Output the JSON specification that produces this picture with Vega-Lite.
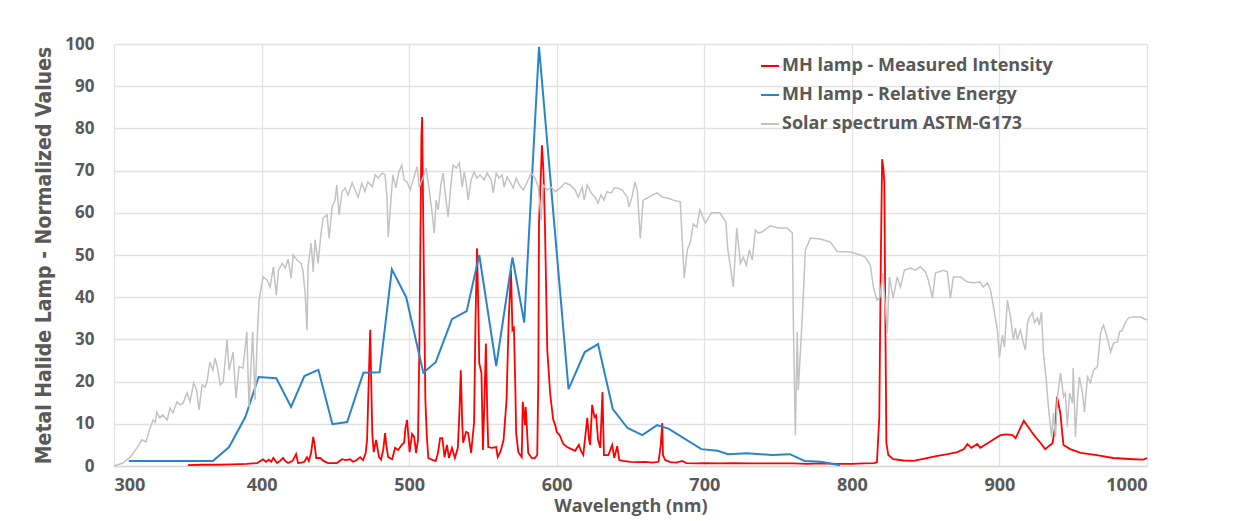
{
  "$schema": "https://vega.github.io/schema/vega-lite/v6.json",
  "width": 1033,
  "height": 422,
  "autosize": {"type": "none"},
  "padding": {"left": 114, "top": 44, "right": 102, "bottom": 55},
  "background": "white",
  "config": {
    "view": {"stroke": null},
    "axis": {
      "gridColor": "#E3E3E3",
      "gridWidth": 1.3,
      "ticks": false,
      "labelColor": "#595959",
      "labelFont": "Open Sans",
      "labelFontWeight": "bold",
      "titleColor": "#595959"
    },
    "legend": {
      "labelFont": "Open Sans",
      "labelFontWeight": "bold",
      "labelFontSize": 18,
      "labelColor": "#595959",
      "labelLimit": 500,
      "symbolType": "stroke",
      "symbolSize": 324,
      "symbolStrokeWidth": 2,
      "labelOffset": 2,
      "rowPadding": 10
    }
  },
  "layer": [
    {
      "data": {"values": [
        {"wl":350,"v":0.2},{"wl":360,"v":0.3},{"wl":370,"v":0.3},{"wl":380,"v":0.4},{"wl":390,"v":0.5},{"wl":397,"v":0.7},{"wl":401,"v":1.6},{"wl":403,"v":1.0},{"wl":405,"v":1.5},{"wl":406.5,"v":1.0},{"wl":408,"v":1.9},{"wl":410.5,"v":0.7},{"wl":412.5,"v":1.2},{"wl":414.6,"v":1.9},{"wl":416,"v":1.2},{"wl":418,"v":0.7},{"wl":421,"v":1.2},{"wl":423.4,"v":2.8},{"wl":424.7,"v":0.7},{"wl":427,"v":0.8},{"wl":429,"v":1.0},{"wl":430.8,"v":2.1},{"wl":432,"v":1.2},{"wl":433.5,"v":3},{"wl":435,"v":6.9},{"wl":436,"v":5},{"wl":437,"v":1.9},{"wl":439.7,"v":1.9},{"wl":442,"v":1.2},{"wl":445,"v":0.7},{"wl":451,"v":0.7},{"wl":454.6,"v":1.6},{"wl":457,"v":1.4},{"wl":460,"v":1.6},{"wl":462,"v":1.0},{"wl":464,"v":1.3},{"wl":466.8,"v":2.1},{"wl":468.8,"v":1.4},{"wl":470.5,"v":3},{"wl":471.5,"v":6.2},{"wl":473,"v":25},{"wl":473.6,"v":32.3},{"wl":474.3,"v":20},{"wl":475,"v":7.8},{"wl":476,"v":3.3},{"wl":477.6,"v":6.2},{"wl":479.6,"v":2.1},{"wl":481,"v":1.5},{"wl":482.5,"v":4},{"wl":483.7,"v":7.8},{"wl":484.5,"v":5},{"wl":485.8,"v":2.1},{"wl":488.5,"v":1.6},{"wl":490.5,"v":4.3},{"wl":492.5,"v":3.8},{"wl":495,"v":5},{"wl":496.6,"v":5.5},{"wl":497.5,"v":9},{"wl":498.6,"v":10.9},{"wl":499.5,"v":7},{"wl":500.3,"v":3.3},{"wl":502,"v":7.6},{"wl":503.4,"v":6.9},{"wl":504.7,"v":3.1},{"wl":506,"v":6.2},{"wl":507,"v":30},{"wl":508.3,"v":78},{"wl":508.8,"v":82.7},{"wl":509.5,"v":60},{"wl":510.5,"v":30},{"wl":511,"v":15.6},{"wl":512,"v":7},{"wl":513,"v":1.9},{"wl":516,"v":1.4},{"wl":518,"v":1.2},{"wl":519.5,"v":3},{"wl":521,"v":6.6},{"wl":522.5,"v":6.6},{"wl":524,"v":2.1},{"wl":525.6,"v":5},{"wl":527,"v":1.9},{"wl":529,"v":4.3},{"wl":531,"v":1.9},{"wl":533,"v":4.3},{"wl":534,"v":12},{"wl":535,"v":22.7},{"wl":536,"v":10},{"wl":536.6,"v":5.5},{"wl":538.6,"v":8.1},{"wl":540,"v":7.8},{"wl":542,"v":3.1},{"wl":544,"v":10.2},{"wl":545,"v":35},{"wl":546,"v":51.6},{"wl":547,"v":35},{"wl":547.5,"v":24.4},{"wl":549,"v":22},{"wl":550,"v":3.8},{"wl":551,"v":15},{"wl":552,"v":29},{"wl":553,"v":12},{"wl":553.6,"v":4.5},{"wl":556,"v":4.3},{"wl":559,"v":4.5},{"wl":560,"v":2.1},{"wl":562,"v":3.5},{"wl":564,"v":6.2},{"wl":566,"v":15.6},{"wl":567.5,"v":35},{"wl":568.5,"v":42.4},{"wl":569,"v":46.4},{"wl":570,"v":32.2},{"wl":571,"v":32.7},{"wl":572,"v":18},{"wl":572.5,"v":7.8},{"wl":574,"v":3.3},{"wl":576.3,"v":2.1},{"wl":577,"v":15.2},{"wl":578.6,"v":9.7},{"wl":579,"v":14},{"wl":580.7,"v":3.1},{"wl":583,"v":1.9},{"wl":585,"v":1.8},{"wl":586.8,"v":2.6},{"wl":587.5,"v":20},{"wl":588,"v":57.6},{"wl":590,"v":76},{"wl":591,"v":70},{"wl":592,"v":57.6},{"wl":593.6,"v":27.5},{"wl":595.6,"v":17},{"wl":597.6,"v":11},{"wl":599,"v":9.7},{"wl":600,"v":8.1},{"wl":602,"v":7.3},{"wl":604.5,"v":5.2},{"wl":607,"v":4.5},{"wl":610,"v":4},{"wl":612.5,"v":3.6},{"wl":615,"v":5},{"wl":616.5,"v":3.5},{"wl":618,"v":2.6},{"wl":620.7,"v":11.4},{"wl":622,"v":6},{"wl":622.7,"v":5},{"wl":624,"v":14.5},{"wl":625.6,"v":11.6},{"wl":626.7,"v":12},{"wl":628,"v":6.2},{"wl":629.5,"v":4.3},{"wl":631,"v":17.5},{"wl":632,"v":2.6},{"wl":635,"v":2.6},{"wl":637.6,"v":5},{"wl":639,"v":1.9},{"wl":641,"v":4.7},{"wl":642.4,"v":1.4},{"wl":645,"v":1.2},{"wl":650,"v":1.0},{"wl":655,"v":0.9},{"wl":660,"v":1.0},{"wl":665,"v":0.8},{"wl":669,"v":1.0},{"wl":670.5,"v":5},{"wl":671.5,"v":10.2},{"wl":672,"v":2.6},{"wl":673.5,"v":1.4},{"wl":677,"v":0.9},{"wl":681,"v":0.8},{"wl":685,"v":1.2},{"wl":688,"v":0.7},{"wl":695,"v":0.6},{"wl":700,"v":0.7},{"wl":710,"v":0.6},{"wl":720,"v":0.7},{"wl":730,"v":0.6},{"wl":740,"v":0.6},{"wl":750,"v":0.6},{"wl":760,"v":0.6},{"wl":770,"v":0.5},{"wl":780,"v":0.6},{"wl":790,"v":0.5},{"wl":800,"v":0.5},{"wl":808,"v":0.6},{"wl":815,"v":0.7},{"wl":817,"v":0.9},{"wl":818.6,"v":11.6},{"wl":819.5,"v":45},{"wl":820.5,"v":72.7},{"wl":821.5,"v":70},{"wl":822,"v":67},{"wl":822.8,"v":30},{"wl":823.4,"v":5.5},{"wl":824.7,"v":2.6},{"wl":828,"v":1.6},{"wl":835,"v":1.3},{"wl":841.7,"v":1.2},{"wl":850,"v":1.8},{"wl":858,"v":2.4},{"wl":865,"v":2.8},{"wl":871.5,"v":3.3},{"wl":876,"v":4},{"wl":878.3,"v":5.2},{"wl":881,"v":4.3},{"wl":885,"v":5.2},{"wl":887,"v":4.3},{"wl":892.5,"v":5.5},{"wl":897,"v":6.5},{"wl":900.7,"v":7.3},{"wl":905,"v":7.5},{"wl":908.8,"v":7.3},{"wl":911,"v":6.6},{"wl":913.5,"v":8.5},{"wl":916.5,"v":10.7},{"wl":919.7,"v":9.2},{"wl":922,"v":8},{"wl":924.4,"v":6.9},{"wl":928,"v":5.4},{"wl":931,"v":4.0},{"wl":933.4,"v":4.7},{"wl":936,"v":5.4},{"wl":938,"v":10},{"wl":939,"v":16.4},{"wl":941.3,"v":12.5},{"wl":942.5,"v":8},{"wl":943.4,"v":5},{"wl":948,"v":4},{"wl":955,"v":3.1},{"wl":966,"v":2.6},{"wl":977,"v":1.9},{"wl":991,"v":1.6},{"wl":997.6,"v":1.5},{"wl":1000,"v":1.9}
      ]},
      "mark": {"type": "line", "strokeWidth": 1.8, "interpolate": "linear"},
      "encoding": {
        "x": {"field": "wl", "type": "quantitative", "scale": {"domain": [300, 1000], "nice": false},
          "axis": {"values": [300,400,500,600,700,800,900,1000], "format": "d", "title": "Wavelength (nm)", "titleFont": "Open Sans", "titleFontWeight": "bold", "titleFontSize": 18, "titlePadding": 3, "labelFontSize": 18, "labelPadding": 10, "domainColor": "#D9D9D9", "domainWidth": 1.5}},
        "y": {"field": "v", "type": "quantitative", "scale": {"domain": [0, 100], "nice": false},
          "axis": {"values": [0,10,20,30,40,50,60,70,80,90,100], "title": "Metal Halide Lamp - Normalized Values", "titleFont": "'DejaVu Sans Condensed', Roboto", "titleFontWeight": "bold", "titleFontSize": 21, "titlePadding": 10, "labelFontSize": 17, "labelPadding": 20, "domain": false}},
        "color": {"datum": "MH lamp - Measured Intensity", "type": "nominal",
          "scale": {"domain": ["MH lamp - Measured Intensity", "MH lamp - Relative Energy", "Solar spectrum ASTM-G173"], "range": ["#FF0000", "#2A84C9", "#C3C3C3"]},
          "legend": {"title": null, "orient": "none", "legendX": 646, "legendY": 12}}
      }
    },
    {
      "data": {"values": [
        {"wl":310,"v":1.2},{"wl":367,"v":1.2},{"wl":378,"v":4.5},{"wl":389,"v":11.6},{"wl":398,"v":21.1},{"wl":410,"v":20.8},{"wl":420,"v":14},{"wl":429,"v":21.3},{"wl":438.5,"v":22.8},{"wl":448,"v":9.9},{"wl":458,"v":10.4},{"wl":469,"v":22.1},{"wl":480,"v":22.2},{"wl":488.3,"v":46.6},{"wl":498,"v":40},{"wl":509.6,"v":22.1},{"wl":518,"v":24.6},{"wl":529,"v":34.8},{"wl":539,"v":36.7},{"wl":547.5,"v":50},{"wl":559,"v":23.7},{"wl":570,"v":49.4},{"wl":578,"v":34},{"wl":588,"v":99.3},{"wl":608,"v":18.2},{"wl":619,"v":27},{"wl":628,"v":28.9},{"wl":638,"v":13.5},{"wl":648,"v":9},{"wl":658,"v":7.3},{"wl":668,"v":9.7},{"wl":676,"v":8.8},{"wl":698,"v":4},{"wl":709,"v":3.6},{"wl":716,"v":2.8},{"wl":729,"v":3.0},{"wl":746,"v":2.6},{"wl":758,"v":2.8},{"wl":768,"v":1.2},{"wl":779,"v":1},{"wl":792,"v":0.2}
      ]},
      "mark": {"type": "line", "strokeWidth": 2},
      "encoding": {
        "x": {"field": "wl", "type": "quantitative"},
        "y": {"field": "v", "type": "quantitative"},
        "color": {"datum": "MH lamp - Relative Energy", "type": "nominal"}
      }
    },
    {
      "data": {"values": [
        {"wl":300,"v":0},{"wl":306,"v":0.7},{"wl":311,"v":2.1},{"wl":315.6,"v":4.3},{"wl":319,"v":6.2},{"wl":321.7,"v":5.7},{"wl":324,"v":8.5},{"wl":326.4,"v":10.9},{"wl":328,"v":10.4},{"wl":329,"v":12.8},{"wl":331,"v":11.4},{"wl":333,"v":12.1},{"wl":336,"v":10.9},{"wl":338,"v":13.7},{"wl":340,"v":12.6},{"wl":342.7,"v":15.2},{"wl":344.7,"v":14.5},{"wl":346.8,"v":14.9},{"wl":349.5,"v":17.3},{"wl":351.5,"v":15.2},{"wl":354,"v":19.7},{"wl":356,"v":18},{"wl":357.6,"v":13.3},{"wl":359.7,"v":19.2},{"wl":361.7,"v":18.7},{"wl":363,"v":19.9},{"wl":365,"v":24.6},{"wl":367,"v":22.7},{"wl":368.5,"v":25.6},{"wl":370,"v":23.5},{"wl":372,"v":19.2},{"wl":374,"v":19.9},{"wl":376.6,"v":29.9},{"wl":378,"v":22.7},{"wl":380.7,"v":27},{"wl":382.7,"v":16.1},{"wl":384.7,"v":23.5},{"wl":387.4,"v":23.2},{"wl":390,"v":31.8},{"wl":391.5,"v":14},{"wl":394,"v":31.8},{"wl":395.6,"v":15.6},{"wl":397,"v":29.9},{"wl":398.3,"v":39.3},{"wl":401,"v":44.8},{"wl":403.7,"v":44.1},{"wl":405.8,"v":42.4},{"wl":408,"v":47.2},{"wl":410,"v":40.5},{"wl":411.5,"v":46.4},{"wl":414,"v":48},{"wl":416,"v":46.9},{"wl":418,"v":49},{"wl":420,"v":44.5},{"wl":421.4,"v":50},{"wl":424,"v":48.8},{"wl":426.8,"v":48},{"wl":428,"v":46.4},{"wl":429.5,"v":41},{"wl":430.8,"v":32.2},{"wl":431.5,"v":47.2},{"wl":433.6,"v":52.8},{"wl":435,"v":46},{"wl":436.3,"v":53.6},{"wl":438.3,"v":48},{"wl":440.3,"v":55.2},{"wl":441.7,"v":58.8},{"wl":444.4,"v":59.5},{"wl":445.8,"v":54},{"wl":447.8,"v":61.4},{"wl":449.8,"v":63},{"wl":451,"v":66.6},{"wl":452.5,"v":59.5},{"wl":454.6,"v":65},{"wl":456.6,"v":65.9},{"wl":458.6,"v":64.2},{"wl":461.4,"v":67.1},{"wl":463.4,"v":65.4},{"wl":465.4,"v":63.7},{"wl":468,"v":67},{"wl":470,"v":65},{"wl":472,"v":67.3},{"wl":475,"v":66.2},{"wl":477,"v":69},{"wl":479,"v":68.2},{"wl":481.7,"v":69.4},{"wl":483.7,"v":69},{"wl":485,"v":63.7},{"wl":485.8,"v":54.3},{"wl":487.8,"v":63.7},{"wl":489,"v":69},{"wl":491,"v":65.9},{"wl":493,"v":69.7},{"wl":495,"v":71.3},{"wl":496.6,"v":67.8},{"wl":498.6,"v":67.3},{"wl":500.7,"v":65.4},{"wl":502.7,"v":67.8},{"wl":505.4,"v":70.9},{"wl":506.8,"v":66.1},{"wl":509.5,"v":68.5},{"wl":511.5,"v":70.6},{"wl":513.6,"v":65.4},{"wl":515.6,"v":59.9},{"wl":517,"v":55.2},{"wl":518.3,"v":63},{"wl":519.7,"v":60.7},{"wl":521.7,"v":67.1},{"wl":523,"v":69.4},{"wl":525,"v":63},{"wl":526.4,"v":59},{"wl":528.5,"v":67.3},{"wl":529.8,"v":71.3},{"wl":532,"v":70.6},{"wl":534,"v":71.8},{"wl":536,"v":66.1},{"wl":537.3,"v":69.7},{"wl":538.6,"v":67.3},{"wl":540,"v":63},{"wl":542,"v":67.8},{"wl":544,"v":69.7},{"wl":546,"v":68.2},{"wl":548,"v":69},{"wl":550.8,"v":67.8},{"wl":552.9,"v":69.4},{"wl":555.6,"v":67.8},{"wl":557,"v":64.7},{"wl":559,"v":69.4},{"wl":561,"v":68.2},{"wl":563,"v":69},{"wl":564.4,"v":66.1},{"wl":566.4,"v":68.5},{"wl":568.5,"v":67.3},{"wl":570.5,"v":65.9},{"wl":572.5,"v":68.2},{"wl":574.6,"v":66.6},{"wl":577.3,"v":65.4},{"wl":580,"v":67.3},{"wl":582.7,"v":69.4},{"wl":585.4,"v":68.2},{"wl":587.5,"v":66.1},{"wl":589.5,"v":58.3},{"wl":590.8,"v":66.6},{"wl":593.6,"v":65.4},{"wl":596.3,"v":66.1},{"wl":599,"v":65},{"wl":602.4,"v":65.9},{"wl":605.8,"v":67.1},{"wl":609,"v":66.6},{"wl":612.5,"v":65.4},{"wl":614.6,"v":63.7},{"wl":617.3,"v":66.1},{"wl":618.6,"v":63},{"wl":620.7,"v":66.6},{"wl":623.4,"v":64.7},{"wl":626,"v":63.7},{"wl":628,"v":62.3},{"wl":630,"v":64.2},{"wl":632,"v":63},{"wl":634,"v":65},{"wl":637,"v":64.7},{"wl":639,"v":65.9},{"wl":641,"v":65.9},{"wl":644.4,"v":65.4},{"wl":647.8,"v":63.7},{"wl":649,"v":61.4},{"wl":651,"v":63.7},{"wl":653,"v":67.3},{"wl":654.6,"v":65.4},{"wl":656.6,"v":54},{"wl":658.6,"v":63},{"wl":661.4,"v":63.5},{"wl":664.7,"v":64.2},{"wl":668,"v":64.7},{"wl":671.5,"v":63.7},{"wl":675,"v":63.5},{"wl":679,"v":63},{"wl":683.7,"v":62.6},{"wl":686.4,"v":44.5},{"wl":688.5,"v":51.2},{"wl":690.5,"v":53},{"wl":692.5,"v":57.3},{"wl":695,"v":56.6},{"wl":697,"v":60.7},{"wl":700.7,"v":57.6},{"wl":705,"v":60},{"wl":710.5,"v":60},{"wl":714.6,"v":57.8},{"wl":716,"v":51.2},{"wl":719.7,"v":42.4},{"wl":722,"v":56.4},{"wl":724.5,"v":48},{"wl":726.4,"v":49.5},{"wl":728.5,"v":47.6},{"wl":730.5,"v":51.2},{"wl":732.5,"v":48.8},{"wl":734.6,"v":55.9},{"wl":736.6,"v":55.2},{"wl":739.3,"v":55.5},{"wl":744.7,"v":56.9},{"wl":750,"v":56.4},{"wl":756,"v":56.4},{"wl":759.7,"v":55.2},{"wl":760.3,"v":35.3},{"wl":761.7,"v":7.3},{"wl":763,"v":31.8},{"wl":763.7,"v":18},{"wl":766.4,"v":35.3},{"wl":768.5,"v":51.2},{"wl":771.9,"v":54},{"wl":778.6,"v":53.8},{"wl":785.4,"v":53.1},{"wl":790,"v":50.8},{"wl":799,"v":50.7},{"wl":805.8,"v":50},{"wl":809,"v":49.5},{"wl":812.5,"v":47.6},{"wl":814.6,"v":42.4},{"wl":817,"v":39.3},{"wl":819,"v":40},{"wl":821,"v":45.7},{"wl":824,"v":31.5},{"wl":825.4,"v":44.8},{"wl":828,"v":39.8},{"wl":830.8,"v":44.8},{"wl":832.9,"v":42.4},{"wl":835.6,"v":46.4},{"wl":839.7,"v":46.9},{"wl":843,"v":46.4},{"wl":846.4,"v":47.2},{"wl":849.8,"v":46},{"wl":851.9,"v":44},{"wl":854.6,"v":39.8},{"wl":856.6,"v":45.7},{"wl":862,"v":46.4},{"wl":864.7,"v":46},{"wl":866.8,"v":39.8},{"wl":868.8,"v":44.8},{"wl":873.6,"v":44.8},{"wl":878.3,"v":43.6},{"wl":882.4,"v":43.4},{"wl":887,"v":43.6},{"wl":889,"v":42.4},{"wl":891.9,"v":43.4},{"wl":893.9,"v":41.7},{"wl":896,"v":37.7},{"wl":898.6,"v":32.2},{"wl":900,"v":25.8},{"wl":902,"v":31},{"wl":903.4,"v":28.2},{"wl":905.4,"v":39.3},{"wl":907.5,"v":35.3},{"wl":909.5,"v":29.9},{"wl":910.8,"v":32.7},{"wl":912.2,"v":29.9},{"wl":914.2,"v":32.2},{"wl":916.3,"v":29.1},{"wl":917.6,"v":27.5},{"wl":919,"v":33.9},{"wl":920.3,"v":35.3},{"wl":922.4,"v":36.3},{"wl":923.7,"v":33.9},{"wl":925.8,"v":35.1},{"wl":927,"v":33.4},{"wl":928.5,"v":36.5},{"wl":929.8,"v":26.8},{"wl":931.9,"v":19.7},{"wl":933.2,"v":14},{"wl":935.3,"v":6.9},{"wl":936.6,"v":12.6},{"wl":938,"v":6.9},{"wl":939.3,"v":16.4},{"wl":941.4,"v":22},{"wl":943.4,"v":16.4},{"wl":944.7,"v":17.3},{"wl":946,"v":9.2},{"wl":947.5,"v":17.3},{"wl":949.5,"v":14.9},{"wl":950,"v":23.2},{"wl":951.5,"v":6.9},{"wl":953,"v":16.4},{"wl":954.2,"v":21.1},{"wl":956.3,"v":17.3},{"wl":957.6,"v":12.8},{"wl":959.7,"v":21.1},{"wl":961.7,"v":19.7},{"wl":963.7,"v":22.7},{"wl":966.4,"v":23.5},{"wl":968.5,"v":31.5},{"wl":970.5,"v":33.4},{"wl":971.9,"v":31.8},{"wl":974,"v":29.1},{"wl":975.3,"v":27},{"wl":977.3,"v":29.1},{"wl":980,"v":29.4},{"wl":981.4,"v":31.8},{"wl":983.4,"v":32.2},{"wl":985.4,"v":34.1},{"wl":987.5,"v":35.1},{"wl":990.8,"v":35.3},{"wl":995.6,"v":35.3},{"wl":1000,"v":34.6}
      ]},
      "mark": {"type": "line", "strokeWidth": 1.5},
      "encoding": {
        "x": {"field": "wl", "type": "quantitative"},
        "y": {"field": "v", "type": "quantitative"},
        "color": {"datum": "Solar spectrum ASTM-G173", "type": "nominal"}
      }
    }
  ]
}
